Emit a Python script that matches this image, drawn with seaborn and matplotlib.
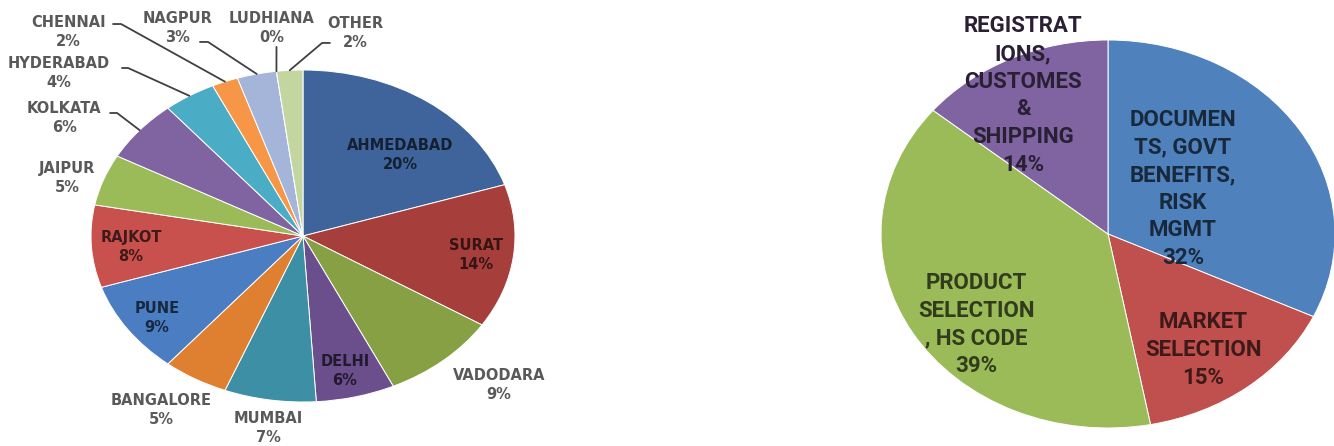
import numpy as np
import matplotlib
matplotlib.use("Agg")
import matplotlib.pyplot as plt
import seaborn as sns
from matplotlib.colors import to_rgb

# ==========================================
# 0. 資料
# ==========================================
city_names = ['AHMEDABAD', 'SURAT', 'VADODARA', 'DELHI', 'MUMBAI', 'BANGALORE', 'PUNE',
              'RAJKOT', 'JAIPUR', 'KOLKATA', 'HYDERABAD', 'CHENNAI', 'NAGPUR', 'LUDHIANA', 'OTHER']
city_share = [20, 14, 9, 6, 7, 5, 9, 8, 5, 6, 4, 2, 3, 0, 2]
city_colors = ['#3F649B', '#A63F3C', '#86A043', '#6A4F8C', '#3C8FA5', '#DF7F30', '#4B7DC2',
               '#C8504D', '#9BBB59', '#8064A2', '#4BACC6', '#F79646', '#A5B5DA', '#D99795', '#C4D6A0']

need_names = ['DOCUMEN\nTS, GOVT\nBENEFITS,\nRISK\nMGMT', 'MARKET\nSELECTION',
              'PRODUCT\nSELECTION\n, HS CODE', 'REGISTRAT\nIONS,\nCUSTOMES\n&\nSHIPPING']
need_share = [32, 15, 39, 14]
need_colors = ['#4F81BD', '#C0504D', '#9BBB59', '#8064A2']

# ==========================================
# 1. 版面設定 (像素座標 -> 圖框比例)
# ==========================================
W, H = 1334, 446

# 標籤中心位置 (以橢圓半徑為單位), 是否在扇形內
city_label_pos = {
    'AHMEDABAD': (0.458, 0.488, True), 'SURAT': (0.816, -0.114, True),
    'VADODARA': (0.925, -0.898, False), 'DELHI': (0.198, -0.813, True),
    'MUMBAI': (-0.165, -1.157, False), 'BANGALORE': (-0.670, -1.048, False),
    'PUNE': (-0.689, -0.494, True), 'RAJKOT': (-0.811, -0.066, True),
    'JAIPUR': (-1.113, 0.349, False), 'KOLKATA': (-1.127, 0.711, False),
    'HYDERABAD': (-1.151, 0.982, False), 'CHENNAI': (-1.108, 1.229, False),
    'NAGPUR': (-0.594, 1.253, False), 'LUDHIANA': (-0.146, 1.253, False),
    'OTHER': (0.245, 1.223, False),
}
# 引導線起點 (文字旁), 之後接到扇形外緣中點
city_leaders = {
    'CHENNAI': [(-0.896, 1.277), (-0.858, 1.277)],
    'HYDERABAD': [(-0.854, 1.012), (-0.825, 1.012)],
    'KOLKATA': [(-0.910, 0.741), (-0.877, 0.741)],
    'NAGPUR': [(-0.486, 1.169), (-0.448, 1.169)],
    'LUDHIANA': [(-0.125, 1.139)],
    'OTHER': [(0.127, 1.163), (0.090, 1.163)],
}
need_label_pos = [(0.330, 0.232, True), (0.419, -0.598, True),
                  (-0.581, -0.466, True), (-0.374, 0.714, True)]

sns.set_theme(style="white")
plt.rcParams['font.family'] = ['DejaVu Sans']


def darker(c, f=0.32):
    return tuple(np.array(to_rgb(c)) * f)


def draw_pie(ax, names, values, colors, label_pos, fs, family, ls, leaders=None):
    wedges, _ = ax.pie(values, colors=colors, startangle=90, counterclock=False,
                       radius=1, wedgeprops=dict(edgecolor='white', linewidth=0.7))
    ax.set_aspect('auto')
    ax.set_xlim(-1, 1)
    ax.set_ylim(-1, 1)
    ax.axis('off')

    for i, (name, v) in enumerate(zip(names, values)):
        x, y, inside = label_pos[name] if isinstance(label_pos, dict) else label_pos[i]
        tc = darker(colors[i]) if inside else '#595959'
        ax.text(x, y, f"{name}\n{v}%", ha='center', va='center', fontsize=fs,
                fontweight='bold', color=tc, family=family, linespacing=ls)

        if leaders and name in leaders:
            w = wedges[i]
            ang = np.deg2rad((w.theta1 + w.theta2) / 2)
            pts = leaders[name] + [(np.cos(ang), np.sin(ang))]
            xs, ys = zip(*pts)
            ax.plot(xs, ys, color='#404040', lw=1.3, clip_on=False)


fig = plt.figure(figsize=(W / 100, H / 100), dpi=100)

# 左: 城市分佈
ax1 = fig.add_axes([91 / W, (H - 402) / H, 424 / W, 332 / H])
draw_pie(ax1, city_names, city_share, city_colors, city_label_pos, 10.5,
         ['DejaVu Sans'], 1.3, city_leaders)

# 右: 需求類型
ax2 = fig.add_axes([881 / W, (H - 428) / H, 454 / W, 388 / H])
draw_pie(ax2, need_names, need_share, need_colors, need_label_pos, 16,
         ['Roboto', 'DejaVu Sans'], 1.33)

fig.savefig("out.png", dpi=100)
